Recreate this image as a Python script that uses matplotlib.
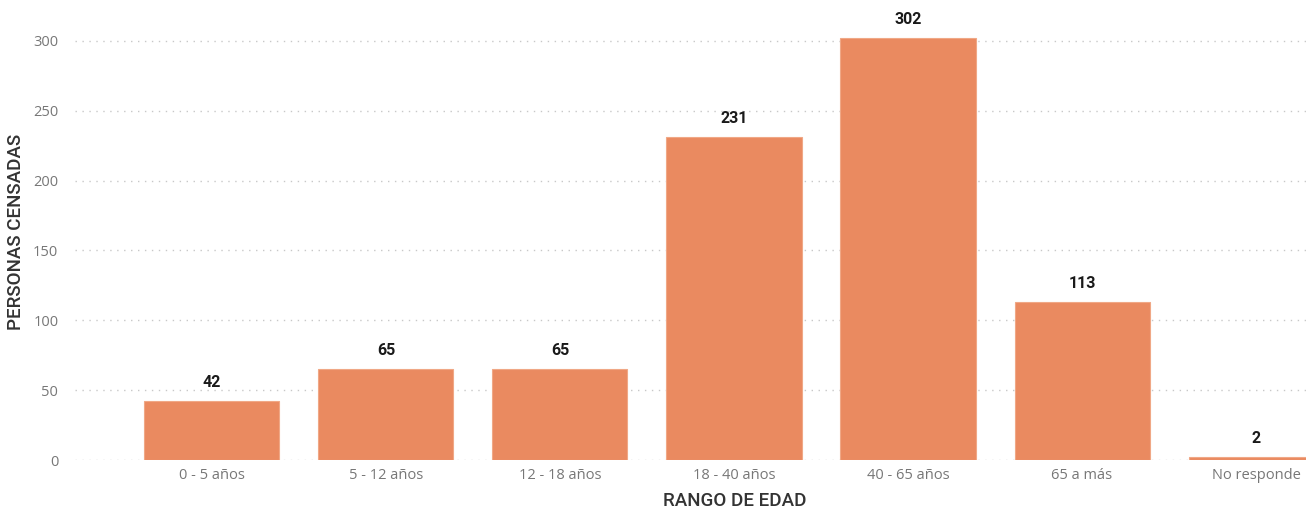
import matplotlib.pyplot as plt
import numpy as np

categorias = ['0 - 5 años', '5 - 12 años', '12 - 18 años', '18 - 40 años',
              '40 - 65 años', '65 a más', 'No responde']
personas = [42, 65, 65, 231, 302, 113, 2]
yticks = [0, 50, 100, 150, 200, 250, 300]

plt.rcParams['font.family'] = ['Open Sans', 'DejaVu Sans']

fig = plt.figure(figsize=(13.06, 5.11), dpi=100)
ax = fig.add_axes([0.0574, 0.0998, 0.9426, 0.8414])

x = np.arange(len(categorias))
barras = ax.bar(x, personas, width=0.776, color='#EA8A60', edgecolor='#F0A886',
                linewidth=0.8, zorder=3)

for xi, v in zip(x, personas):
    ax.text(xi, v + 8, str(v), ha='center', va='bottom', fontsize=11.5,
            fontweight='bold', color='#1a1a1a', family=['Roboto', 'DejaVu Sans'])

ax.set_xlim(-0.787, 6.287)
ax.set_ylim(0, 307.8)
ax.set_yticks(yticks)
ax.set_xticks(x)
ax.set_xticklabels(categorias)

ax.grid(axis='y', linestyle=(0, (1, 4)), color='#c8c8c8', linewidth=1, zorder=0)
ax.tick_params(axis='both', length=0, labelsize=10.5, labelcolor='#777777')
ax.tick_params(axis='y', pad=12)
ax.tick_params(axis='x', pad=6)
for s in ax.spines.values():
    s.set_visible(False)

ax.set_xlabel('RANGO DE EDAD', fontsize=13.5, color='#333333', fontweight='medium',
              family=['Roboto', 'DejaVu Sans'])
ax.set_ylabel('PERSONAS CENSADAS', fontsize=13.5, color='#333333', fontweight='medium',
              family=['Roboto', 'DejaVu Sans'])
ax.xaxis.set_label_coords(0.536, -0.074)
ax.yaxis.set_label_coords(-0.0406, 0.530)

fig.savefig('out.png', dpi=100)
